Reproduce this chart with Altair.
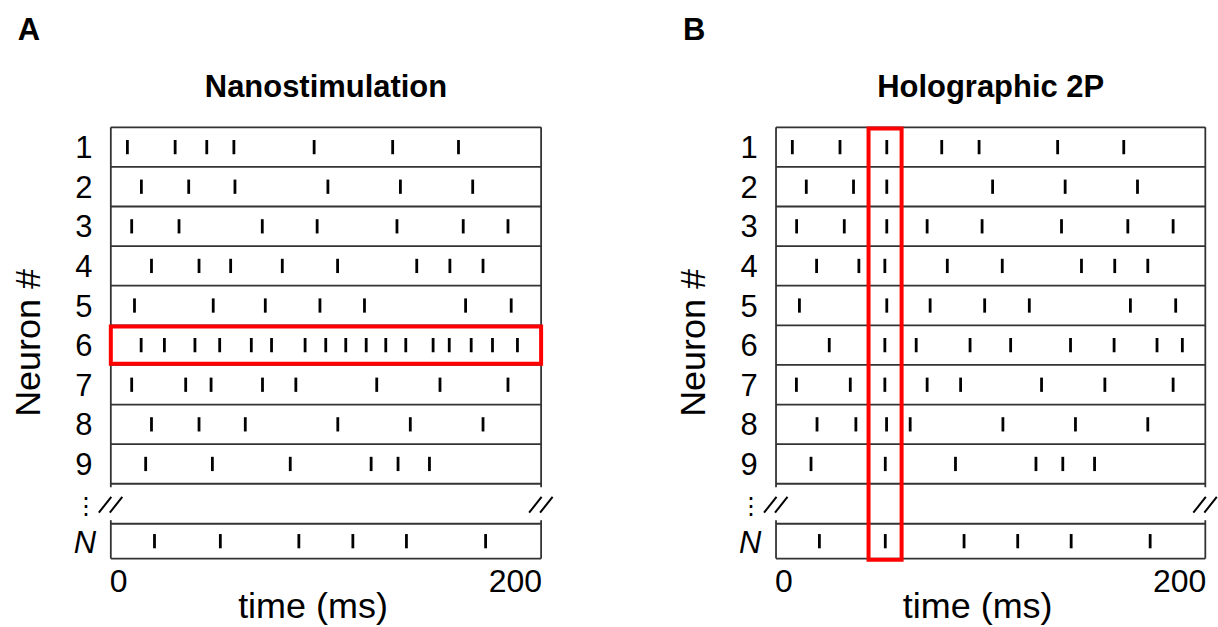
import altair as alt
import pandas as pd

# ---------------- data ----------------
ROWS = ["1", "2", "3", "4", "5", "6", "7", "8", "9", "N"]

NANO_SPIKES = {
    "1": [7.7, 29.9, 44.6, 57.2, 94.5, 131.0, 161.6],
    "2": [14.2, 36.2, 57.7, 100.9, 134.6, 168.2],
    "3": [9.7, 31.7, 70.4, 95.9, 133.0, 163.8, 184.6],
    "4": [18.9, 41.0, 55.7, 79.7, 105.4, 142.2, 157.6, 173.0],
    "5": [11.0, 47.6, 71.8, 97.2, 117.9, 164.9, 186.1],
    "6": [14.1, 24.9, 39.1, 50.6, 65.3, 74.7, 90.3, 99.9, 109.2, 118.7,
          127.8, 137.1, 149.8, 157.3, 167.5, 177.4, 189.0],
    "7": [9.7, 34.8, 46.6, 70.5, 86.0, 123.6, 153.0, 184.6],
    "8": [18.9, 41.0, 62.5, 105.5, 139.2, 173.0],
    "9": [16.2, 47.2, 83.4, 121.0, 133.5, 148.1],
    "N": [20.3, 50.9, 87.4, 112.5, 137.4, 174.2],
}

HOLO_SPIKES = {
    "1": [7.6, 29.8, 51.6, 77.2, 94.6, 131.2, 162.0],
    "2": [14.1, 36.1, 51.6, 100.9, 134.7, 168.4],
    "3": [9.6, 31.8, 51.6, 70.4, 96.0, 133.0, 163.9, 185.0],
    "4": [18.9, 38.6, 50.7, 79.8, 105.4, 142.3, 157.8, 173.2],
    "5": [10.9, 51.6, 71.8, 97.2, 118.0, 165.1, 186.2],
    "6": [24.8, 50.7, 65.3, 90.4, 109.3, 137.2, 157.5, 177.5, 189.3],
    "7": [9.5, 34.6, 50.7, 70.4, 86.0, 123.7, 153.2, 185.0],
    "8": [19.1, 37.2, 51.5, 62.5, 105.7, 139.5, 173.2],
    "9": [16.3, 50.9, 83.6, 121.1, 133.6, 148.4],
    "N": [20.2, 50.9, 87.6, 112.6, 137.5, 174.3],
}

PANEL_TITLES = ["Nanostimulation", "Holographic 2P"]
PANEL_LETTERS = ["A", "B"]
T_RANGE = [0, 200]
X_TICK_LABELS = ["0", "200"]
X_LABEL = "time (ms)"
Y_LABEL = "Neuron #"

# highlighted regions: (time start, time end, first row, last row)
NANO_HIGHLIGHT = (0, 200, "6", "6")
HOLO_HIGHLIGHT = (43.1, 58.5, "1", "N")

# ---------------- layout ----------------
FONT = "Liberation Sans"
W, H = 609, 627
ROW_PX = 39.67
TOP_PX = 127
N_POS = 10.95
N_HALF = 0.44
Y_DOMAIN = [0.5 - TOP_PX / ROW_PX, 0.5 - TOP_PX / ROW_PX + H / ROW_PX]
LINE_COLOR = "#333333"


def row_pos(r):
    return N_POS if r == "N" else float(r)


def txt(s, x, y, size, weight="normal", style="normal", align="center",
        baseline="alphabetic", angle=0, font=FONT):
    return alt.Chart(pd.DataFrame({"s": [s]})).mark_text(
        fontSize=size, fontWeight=weight, fontStyle=style, align=align,
        baseline=baseline, angle=angle, font=font, color="black",
    ).encode(x=alt.value(x), y=alt.value(y), text="s:N")


def panel(spikes, title, letter, box_left, ppm, highlight):
    xdom = [-box_left / ppm, (W - box_left) / ppm]
    xs = alt.Scale(domain=xdom, nice=False, zero=False)
    ys = alt.Scale(domain=Y_DOMAIN, nice=False, zero=False, reverse=True)
    box_right = box_left + (T_RANGE[1] - T_RANGE[0]) * ppm
    box_mid = (box_left + box_right) / 2

    # spikes
    recs = []
    for r in ROWS:
        for t in spikes[r]:
            recs.append({"row": r, "pos": row_pos(r), "t": t})
    sp = alt.Chart(pd.DataFrame(recs)).transform_calculate(
        lo="datum.pos - 0.18", hi="datum.pos + 0.18"
    ).mark_rule(color="black", strokeWidth=2.8).encode(
        x=alt.X("t:Q", scale=xs, axis=None),
        y=alt.Y("lo:Q", scale=ys, axis=None),
        y2="hi:Q",
    )

    # horizontal row borders
    bounds = [p - 0.5 for p in range(1, 10)] + [9.5, N_POS - N_HALF, N_POS + N_HALF]
    hl = alt.Chart(pd.DataFrame({"y": bounds, "x0": T_RANGE[0], "x1": T_RANGE[1]})).mark_rule(
        color=LINE_COLOR, strokeWidth=1.8
    ).encode(
        x=alt.X("x0:Q", scale=xs, axis=None), x2="x1:Q",
        y=alt.Y("y:Q", scale=ys, axis=None),
    )

    # vertical borders (with small stubs at the break)
    vdf = pd.DataFrame({
        "x": [T_RANGE[0], T_RANGE[1], T_RANGE[0], T_RANGE[1]],
        "y0": [0.5, 0.5, N_POS - N_HALF - 0.09, N_POS - N_HALF - 0.09],
        "y1": [9.59, 9.59, N_POS + N_HALF, N_POS + N_HALF],
    })
    vl = alt.Chart(vdf).mark_rule(color=LINE_COLOR, strokeWidth=1.8).encode(
        x=alt.X("x:Q", scale=xs, axis=None),
        y=alt.Y("y0:Q", scale=ys, axis=None), y2="y1:Q",
    )

    # break marks "//"
    segs = []
    for edge in T_RANGE:
        for a, b in [(-12, 0.5), (-1, 11.5)]:
            segs.append({"xa": edge + a / ppm, "xb": edge + b / ppm, "ya": 10.23, "yb": 9.83})
    br = alt.Chart(pd.DataFrame(segs)).mark_rule(color="black", strokeWidth=2).encode(
        x=alt.X("xa:Q", scale=xs, axis=None), x2="xb:Q",
        y=alt.Y("ya:Q", scale=ys, axis=None), y2="yb:Q",
    )

    # highlight rectangle
    t0, t1, r0, r1 = highlight
    hdf = pd.DataFrame({"t0": [t0], "t1": [t1],
                        "y0": [row_pos(r0) - 0.47], "y1": [row_pos(r1) + 0.47]})
    hr = alt.Chart(hdf).mark_rect(filled=False, color="#ff0000", strokeWidth=4).encode(
        x=alt.X("t0:Q", scale=xs, axis=None), x2="t1:Q",
        y=alt.Y("y0:Q", scale=ys, axis=None), y2="y1:Q",
    )

    # row labels
    ldf = pd.DataFrame({"row": ROWS[:-1], "pos": [row_pos(r) for r in ROWS[:-1]]})
    rl = alt.Chart(ldf).mark_text(fontSize=31, font=FONT, baseline="alphabetic",
                                  dy=11, color="black").encode(
        x=alt.value(box_left - 27), y=alt.Y("pos:Q", scale=ys, axis=None), text="row:N"
    )
    nl = alt.Chart(pd.DataFrame({"row": ["N"], "pos": [N_POS]})).mark_text(
        fontSize=31, font=FONT, fontStyle="italic", baseline="alphabetic", dy=12, color="black"
    ).encode(x=alt.value(box_left - 26), y=alt.Y("pos:Q", scale=ys, axis=None), text="row:N")

    layers = [
        hl, vl, sp, br, hr, rl, nl,
        txt("\u22ee", box_left - 25, 507, 24, baseline="middle", font="DejaVu Sans"),
        txt(letter, box_left - 82, 40, 31, weight="bold"),
        txt(title, box_mid, 97, 31, weight="bold"),
        txt(Y_LABEL, box_left - 71, 343, 36, angle=270),
        txt(X_TICK_LABELS[0], box_left - 1, 592, 32, align="left"),
        txt(X_TICK_LABELS[1], box_right + 1, 592, 32, align="right"),
        txt(X_LABEL, box_mid - 13, 619, 36),
    ]
    return alt.layer(*layers).properties(
        width=W, height=H,
        view=alt.ViewBackground(stroke="transparent", strokeWidth=0),
    )


pa = panel(NANO_SPIKES, PANEL_TITLES[0], PANEL_LETTERS[0], 111.0, 2.155, NANO_HIGHLIGHT)
pb = panel(HOLO_SPIKES, PANEL_TITLES[1], PANEL_LETTERS[1], 168.3, 2.15, HOLO_HIGHLIGHT)

chart = alt.hconcat(pa, pb, spacing=0, bounds="flush", padding=0).configure_view(
    strokeWidth=0, stroke="transparent"
).configure(background="white")

chart.save("out.html", embed_options={"renderer": "svg", "actions": False})
